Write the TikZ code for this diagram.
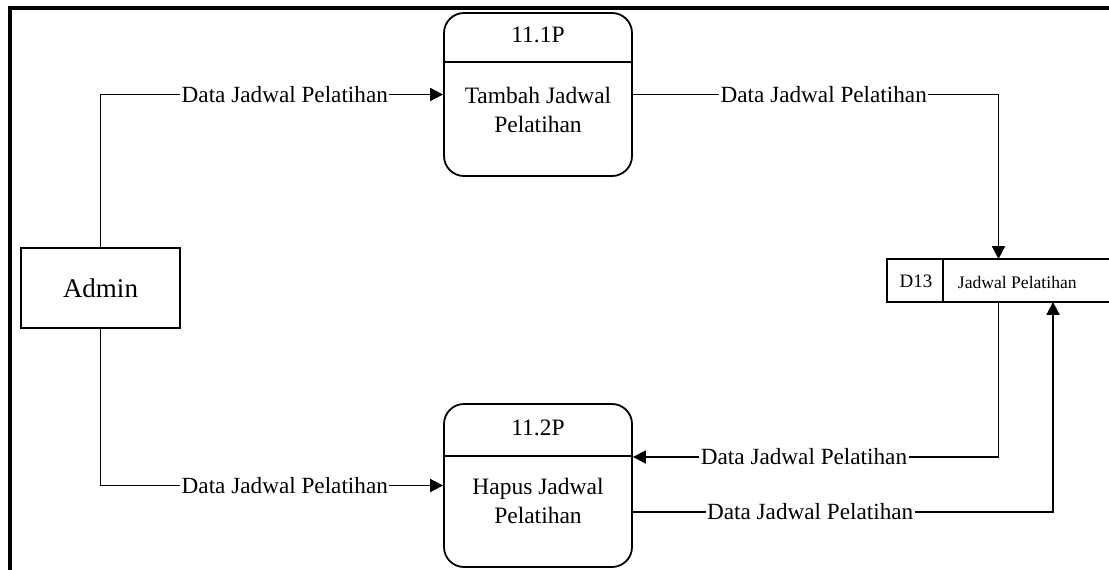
\documentclass[tikz,border=0pt]{standalone}
\usepackage{fontspec}
\setmainfont{Liberation Serif}
\usetikzlibrary{arrows.meta}
\begin{document}
\begin{tikzpicture}[x=1pt,y=-1pt,
  line width=1.8pt,
  arr/.style={-{Triangle[length=13pt,width=13pt]}},
  lbl/.style={fill=white,inner sep=1.5pt,font=\fontsize{23.2}{28}\selectfont},
  proc/.style={draw,rounded corners=20pt,minimum width=188pt,minimum height=163pt,inner sep=0pt},
  ptxt/.style={inner sep=0pt,align=center,font=\fontsize{23.5}{29}\selectfont},
  frame/.style={line width=4pt}
]
\useasboundingbox (0,0) rectangle (1109,570);
% page frame
\draw[frame] (1109,8) -- (10,8) -- (10,570);

% external entity
\node[draw,minimum width=159pt,minimum height=80pt,inner sep=0pt,
      font=\fontsize{27}{32}\selectfont] (admin) at (100.5,288) {Admin};

% processes
\node[proc] (p1) at (538,94.5) {};
\draw (p1.west |- 0,62) -- (p1.east |- 0,62);
\node[ptxt] (p1id) at (538,35) {11.1P};
\node[ptxt] (p1name) at (538,110) {Tambah Jadwal\\Pelatihan};

\node[proc] (p2) at (538,485.5) {};
\draw (p2.west |- 0,456) -- (p2.east |- 0,456);
\node[ptxt] (p2id) at (538,428) {11.2P};
\node[ptxt] (p2name) at (538,501) {Hapus Jadwal\\Pelatihan};

% data store
\node[minimum width=221pt,minimum height=41pt,inner sep=0pt] (store) at (998.5,280.5) {};
\draw (store.north east) -- (store.north west) -- (store.south west) -- (store.south east);
\draw ([xshift=56pt]store.north west) -- ([xshift=56pt]store.south west);
\node[inner sep=0pt,font=\fontsize{19}{23}\selectfont] (d13) at (916,281) {D13};
\node[inner sep=0pt,anchor=west,font=\fontsize{17.6}{21}\selectfont] (storename) at (957,282) {Jadwal Pelatihan};

% flows
\draw[arr] (admin.north) |- (p1.west) node[lbl,pos=0.769] {Data Jadwal Pelatihan};
\draw[arr] (p1.east) -| (store.north) node[lbl,pos=0.261] {Data Jadwal Pelatihan};
\draw[arr] (store.south) |- (p2.east |- 0,457) node[lbl,pos=0.766] {Data Jadwal Pelatihan};
\draw[arr] (p2.east |- 0,512) -| (store.south -| 1053,0) node[lbl,pos=0.211] {Data Jadwal Pelatihan};
\draw[arr] (admin.south) |- (p2.west) node[lbl,pos=0.769] {Data Jadwal Pelatihan};
\end{tikzpicture}
\end{document}
